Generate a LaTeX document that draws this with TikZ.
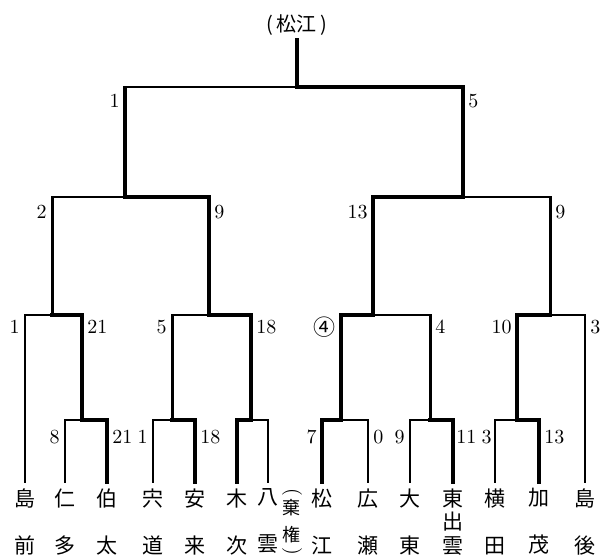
\documentclass[tikz,border=0pt]{standalone}
\usepackage{fontspec}
\newfontfamily\cjk{Noto Sans CJK JP}
\begin{document}
\begin{tikzpicture}[x=0.5pt,y=-0.5pt,line join=miter,line cap=rect,
    loss/.style={line width=0.9pt},
    post/.style={line width=1.5pt},
    win/.style={line width=2.1pt},
    leaf/.style={anchor=north,inner xsep=0pt,inner ysep=3pt,align=center,
      font=\cjk\fontsize{10.5}{23.5}\selectfont},
    paren/.style={rotate=-90,inner sep=0pt,font=\fontsize{10}{12}\selectfont},
    scoreL/.style={anchor=east,inner sep=0pt,font=\fontsize{10}{12}\selectfont},
    scoreR/.style={anchor=west,inner sep=0pt,font=\fontsize{10}{12}\selectfont}]
      \useasboundingbox (0,0) rectangle (607,558);
      % \draw[help lines,step=50] (0,0) grid (607,558);

      % schools
      \node[leaf] (dozen) at (25,482) {島\\前};
      \node[leaf] (nita) at (65,482) {仁\\多};
      \node[leaf] (hakuta) at (107,482) {伯\\太};
      \node[leaf] (shinji) at (153,482) {宍\\道};
      \node[leaf] (yasugi) at (195,482) {安\\来};
      \node[leaf] (kisuki) at (237,482) {木\\次};
      \node[leaf] (yakumo) at (268,482) {八\\雲};
      \node[leaf] (matsue) at (322,482) {松\\江};
      \node[leaf] (hirose) at (368,482) {広\\瀬};
      \node[leaf] (daito) at (410,482) {大\\東};
      \node[leaf, font=\cjk\fontsize{10.5}{11.75}\selectfont] (higashi) at (453,482) {東\\出\\雲};
      \node[leaf] (yokota) at (495,482) {横\\田};
      \node[leaf] (kamo) at (539,482) {加\\茂};
      \node[leaf] (dogo) at (585,482) {島\\後};

      % forfeit note
      \node[inner sep=0pt,align=center,font=\cjk\fontsize{9}{13.5}\selectfont] (kiken) at (292,521) {棄\\権};
      \node[paren] (kikenTop) at (292,492) {(};
      \node[paren] (kikenBot) at (292,551) {)};

      % champion
      \node[inner sep=2pt,font=\cjk\fontsize{10}{12}\selectfont] (champ) at (297,25) {(\,松江\,)};

      % match points
      \coordinate (R1a) at (82,420);
      \coordinate (R1b) at (172,420);
      \coordinate (R1c) at (251,420);
      \coordinate (R1d) at (341,420);
      \coordinate (R1e) at (430,420);
      \coordinate (R1f) at (517,420);
      \coordinate (R2a) at (52,315);
      \coordinate (R2b) at (209,315);
      \coordinate (R2c) at (373,315);
      \coordinate (R2d) at (550,315);
      \coordinate (R3a) at (125,197);
      \coordinate (R3b) at (463,197);
      \coordinate (Fin) at (297,87);

      % round 1
      \draw[loss] (nita.north) |- (R1a);
      \draw[win] (hakuta.north) |- (R1a);
      \draw[loss] (shinji.north) |- (R1b);
      \draw[win] (yasugi.north) |- (R1b);
      \draw[loss] (yakumo.north) |- (R1c);
      \draw[win] (kisuki.north) |- (R1c);
      \draw[loss] (hirose.north) |- (R1d);
      \draw[win] (matsue.north) |- (R1d);
      \draw[loss] (daito.north) |- (R1e);
      \draw[win] (higashi.north) |- (R1e);
      \draw[loss] (yokota.north) |- (R1f);
      \draw[win] (kamo.north) |- (R1f);

      % round 2
      \draw[loss] (dozen.north) |- (R2a);
      \draw[win] (R1a) |- (R2a);
      \draw[loss] (R1b) |- (R2b);
      \draw[post] (R1b) -- (R1b |- R2b);
      \draw[win] (R1c) |- (R2b);
      \draw[loss] (R1e) |- (R2c);
      \draw[post] (R1e) -- (R1e |- R2c);
      \draw[win] (R1d) |- (R2c);
      \draw[loss] (dogo.north) |- (R2d);
      \draw[win] (R1f) |- (R2d);

      % round 3
      \draw[loss] (R2a) |- (R3a);
      \draw[post] (R2a) -- (R2a |- R3a);
      \draw[win] (R2b) |- (R3a);
      \draw[loss] (R2d) |- (R3b);
      \draw[post] (R2d) -- (R2d |- R3b);
      \draw[win] (R2c) |- (R3b);

      % final
      \draw[loss] (R3a) |- (Fin);
      \draw[post] (R3a) -- (R3a |- Fin);
      \draw[win] (R3b) |- (Fin);
      \draw[win] (Fin) -- (champ.south);

      % scores, round 1
      \node[scoreL] (sNita) at (60,437) {8};
      \node[scoreR] (sHakuta) at (112,437) {21};
      \node[scoreL] (sShinji) at (148,437) {1};
      \node[scoreR] (sYasugi) at (200,437) {18};
      \node[scoreL] (sMatsue) at (317,437) {7};
      \node[scoreR] (sHirose) at (373,437) {0};
      \node[scoreL] (sDaito) at (405,437) {9};
      \node[scoreR] (sHigashi) at (456,437) {11};
      \node[scoreL] (sYokota) at (492,437) {3};
      \node[scoreR] (sKamo) at (544,437) {13};

      % scores, round 2
      \node[scoreL] (sR2aL) at (20,327) {1};
      \node[scoreR] (sR2aR) at (87,327) {21};
      \node[scoreL] (sR2bL) at (167,327) {5};
      \node[scoreR] (sR2bR) at (256,327) {18};
      \node[scoreL, font=\cjk\fontsize{11}{12}\selectfont] (sR2cL) at (336,327) {④};
      \node[scoreR] (sR2cR) at (435,327) {4};
      \node[scoreL] (sR2dL) at (512,327) {10};
      \node[scoreR] (sR2dR) at (590,327) {3};

      % scores, round 3
      \node[scoreL] (sR3aL) at (47,212) {2};
      \node[scoreR] (sR3aR) at (214,212) {9};
      \node[scoreL] (sR3bL) at (368,212) {13};
      \node[scoreR] (sR3bR) at (555,212) {9};

      % scores, final
      \node[scoreL] (sFinL) at (120,101) {1};
      \node[scoreR] (sFinR) at (468,101) {5};
\end{tikzpicture}
\end{document}
